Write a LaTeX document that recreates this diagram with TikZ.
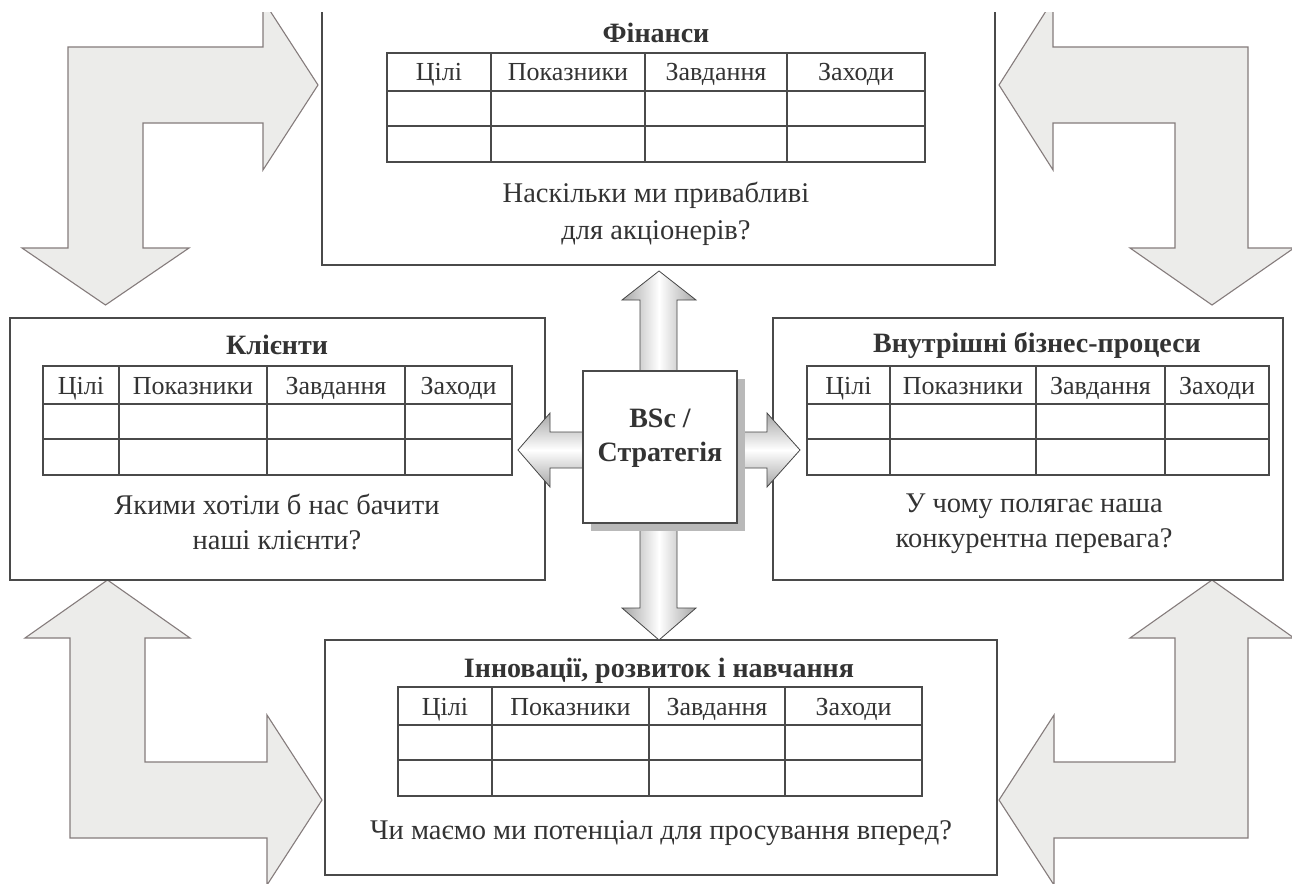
\documentclass[tikz,border=0pt]{standalone}
\usepackage{fontspec}
\setmainfont{Liberation Serif}
\definecolor{ink}{HTML}{333333}
\definecolor{boxline}{HTML}{4A4A4A}
\definecolor{arrfill}{HTML}{ECECEA}
\definecolor{arrline}{HTML}{857C7C}
\tikzset{
  panel/.style={draw=boxline, line width=1.6pt},
  gridline/.style={draw=boxline, line width=1.7pt},
  bigarrow/.style={fill=arrfill, draw=arrline, line width=1.1pt, line join=miter},
  vshaded/.style={left color=gray!70, right color=gray!70, middle color=white, draw=gray!55!black, line width=0.8pt},
  hshaded/.style={top color=gray!70, bottom color=gray!70, middle color=white, draw=gray!55!black, line width=0.8pt},
  ttl/.style={font=\fontsize{28}{32}\selectfont\bfseries, text=ink, anchor=base, inner sep=0pt},
  hdr/.style={font=\fontsize{26}{30}\selectfont, text=ink, anchor=base, inner sep=0pt},
  qst/.style={font=\fontsize{28.5}{32}\selectfont, text=ink, anchor=base, inner sep=0pt},
}
% #1 prefix, #2..#6 column x positions, #7 top y
\newcommand{\bsctab}[7]{%
  \draw[gridline] (#2,#7) rectangle (#6,#7+109);
  \draw[gridline] (#2,#7+38) -- (#6,#7+38) (#2,#7+73) -- (#6,#7+73);
  \draw[gridline] (#3,#7) -- (#3,#7+109) (#4,#7) -- (#4,#7+109) (#5,#7) -- (#5,#7+109);
  \node[hdr] (#1h1) at ({(#2+#3)/2},#7+28) {Цілі};
  \node[hdr] (#1h2) at ({(#3+#4)/2},#7+28) {Показники};
  \node[hdr] (#1h3) at ({(#4+#5)/2},#7+28) {Завдання};
  \node[hdr] (#1h4) at ({(#5+#6)/2},#7+28) {Заходи};
}
\begin{document}
\begin{tikzpicture}[x=1pt,y=-1pt]
\useasboundingbox (0,0) rectangle (1292,883);
\fill[white] (0,0) rectangle (1292,883);
\begin{scope}
\clip (0,13) rectangle (1292,883);
% corner arrows
\draw[bigarrow] (68,248) -- (22,248) -- (105.5,305) -- (189,248) -- (143,248) -- (143,123)
  -- (263,123) -- (263,170) -- (318,85) -- (263,0) -- (263,47) -- (68,47) -- cycle;
\draw[bigarrow] (1175,248) -- (1130,248) -- (1212,305) -- (1294,248) -- (1248,248) -- (1248,47)
  -- (1053,47) -- (1053,0) -- (999,85) -- (1053,170) -- (1053,123) -- (1175,123) -- cycle;
\draw[bigarrow] (70,838) -- (70,638) -- (25,638) -- (107.5,580) -- (190,638) -- (145,638)
  -- (145,762) -- (267,762) -- (267,715) -- (322,800) -- (267,885) -- (267,838) -- cycle;
\draw[bigarrow] (1248,838) -- (1248,638) -- (1294,638) -- (1212,580) -- (1130,638) -- (1175,638)
  -- (1175,762) -- (1054,762) -- (1054,715) -- (999,800) -- (1054,885) -- (1054,838) -- cycle;
% panels
\draw[panel] (322,0) -- (322,265) -- (995,265) -- (995,0);
\draw[panel] (10,318) rectangle (545,580);
\draw[panel] (773,318) rectangle (1283,580);
\draw[panel] (325,640) rectangle (997,875);
\end{scope}
% Finance
\node[ttl] (fint) at (656,42) {Фінанси};
\bsctab{fin}{387}{491}{645}{787}{925}{53}
\node[qst] (finq1) at (656,202) {Наскільки ми привабливі};
\node[qst] (finq2) at (656,239) {для акціонерів?};
% Clients
\node[ttl] (clit) at (277,354) {Клієнти};
\bsctab{cli}{43}{119}{267}{405}{512}{366}
\node[qst] (cliq1) at (277,514) {Якими хотіли б нас бачити};
\node[qst] (cliq2) at (277,549) {наші клієнти?};
% Internal
\node[ttl] (intt) at (1037,352) {Внутрішні бізнес-процеси};
\bsctab{int}{807}{890}{1036}{1165}{1269}{366}
\node[qst] (intq1) at (1034,512) {У чому полягає наша};
\node[qst] (intq2) at (1034,547) {конкурентна перевага?};
% Innovation
\node[ttl] (innt) at (659,677) {Інновації, розвиток і навчання};
\bsctab{inn}{398}{492}{649}{785}{922}{687}
\node[qst] (innq) at (661,839) {Чи маємо ми потенціал для просування вперед?};
% central arrows
\draw[vshaded] (640,375) -- (640,300) -- (622,300) -- (659,271) -- (696,300) -- (677,300) -- (677,375) -- cycle;
\draw[vshaded] (640,520) -- (640,608) -- (622,608) -- (659,640) -- (696,608) -- (677,608) -- (677,520) -- cycle;
\draw[hshaded] (587,432) -- (550,432) -- (550,413) -- (518,450) -- (550,487) -- (550,468) -- (587,468) -- cycle;
\draw[hshaded] (733,432) -- (767,432) -- (767,413) -- (800,450) -- (767,487) -- (767,468) -- (733,468) -- cycle;
% centre box
\fill[gray!55] (591,379) rectangle (745,531);
\node[draw=boxline, line width=1.2pt, fill=white, minimum width=154pt, minimum height=152pt, inner sep=0pt] (bsc) at (660,447) {};
\node[ttl] (bsc1) at (660,427) {BSc /};
\node[ttl] (bsc2) at (660,461) {Стратегія};
\end{tikzpicture}
\end{document}
